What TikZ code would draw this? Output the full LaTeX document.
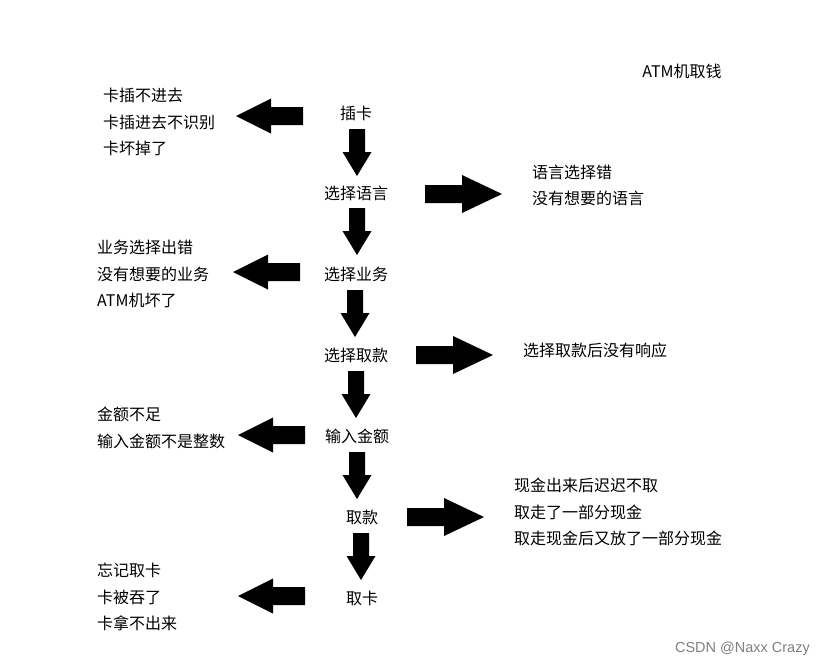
\documentclass[tikz,border=0pt]{standalone}
\usepackage{fontspec}
\setmainfont{Noto Sans CJK SC}
\newfontfamily\wmfont{Liberation Sans}
\tikzset{
  lbl/.style={inner sep=0pt, font=\fontsize{16}{26.3}\selectfont},
  blk/.style={inner sep=0pt, font=\fontsize{16}{26.3}\selectfont, align=left, anchor=west},
  rblk/.pic={\fill[black] (0,-9) -- (37,-9) -- (37,-19) -- (77,0) -- (37,19) -- (37,9) -- (0,9) -- cycle;},
  lblk/.pic={\fill[black] (0,-9) -- (-32,-9) -- (-32,-17.5) -- (-67,0) -- (-32,17.5) -- (-32,9) -- (0,9) -- cycle;},
  dblk/.pic={\fill[black] (-8,0) -- (8,0) -- (8,23) -- (14.5,23) -- (0,47) -- (-14.5,23) -- (-8,23) -- cycle;}
}
\begin{document}
\begin{tikzpicture}[x=1pt,y=-1pt]
\useasboundingbox[fill=white] (0,0) rectangle (825,667);
\node[lbl] (title) at (682,71) {ATM机取钱};
% main steps
\node[lbl] (s1) at (356,113) {插卡};
\node[lbl] (s2) at (356,193) {选择语言};
\node[lbl] (s3) at (356,274) {选择业务};
\node[lbl] (s4) at (356,355) {选择取款};
\node[lbl] (s5) at (357,436) {输入金额};
\node[lbl] (s6) at (362,517) {取款};
\node[lbl] (s7) at (362,598) {取卡};
% down arrows
\pic at (357,129) {dblk};
\pic at (357,208) {dblk};
\pic at (355,290) {dblk};
\pic at (356,371) {dblk};
\pic at (357,452) {dblk};
\pic at (361,533) {dblk};
% left arrows
\pic at (303,116) {lblk};
\pic at (300,272) {lblk};
\pic at (305,435) {lblk};
\pic at (305,596) {lblk};
% right arrows
\pic at (425,194) {rblk};
\pic at (416,355) {rblk};
\pic at (407,517) {rblk};
% left texts
\node[blk] (l1) at (103,122) {卡插不进去\\卡插进去不识别\\卡坏掉了};
\node[blk] (l2) at (97,274) {业务选择出错\\没有想要的业务\\ATM机坏了};
\node[blk] (l3) at (97,428) {金额不足\\输入金额不是整数};
\node[blk] (l4) at (97,597) {忘记取卡\\卡被吞了\\卡拿不出来};
% right texts
\node[blk] (r1) at (532,185.5) {语言选择错\\没有想要的语言};
\node[blk] (r2) at (523,350) {选择取款后没有响应};
\node[blk] (r3) at (514,512) {现金出来后迟迟不取\\取走了一部分现金\\取走现金后又放了一部分现金};
% watermark
\node[inner sep=0pt, anchor=east, text=black!50, font=\wmfont\fontsize{14.5}{16}\selectfont] (wm) at (810,649) {CSDN @Naxx Crazy};
\end{tikzpicture}
\end{document}
